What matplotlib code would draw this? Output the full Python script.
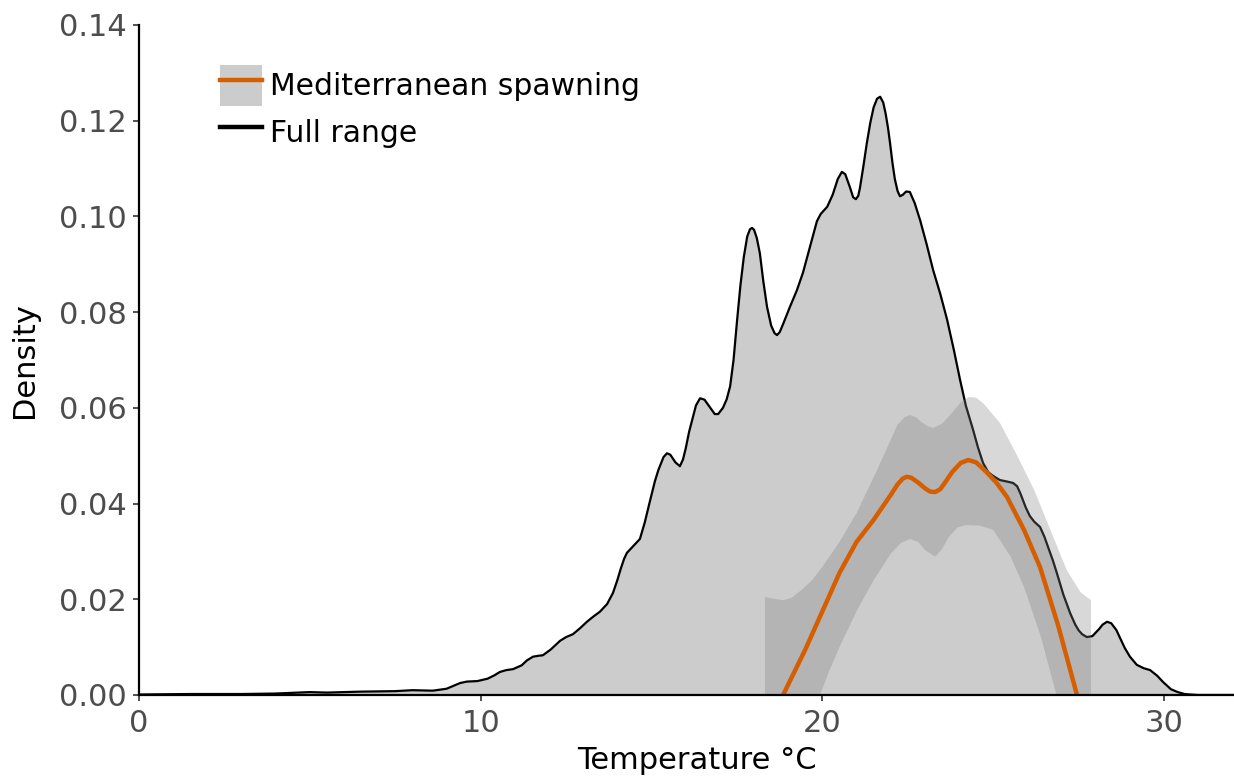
import numpy as np
import matplotlib
matplotlib.use('Agg')
from matplotlib import pyplot as plt
from matplotlib.patches import Patch
from matplotlib.lines import Line2D
from matplotlib.legend_handler import HandlerPatch, HandlerTuple

# full range density
full_x = [0.0, 1.5, 3.0, 4.0, 5.0, 5.5, 6.5, 7.5, 8.0, 8.6, 9.0, 9.2, 9.4, 9.6, 9.9,
          10.2, 10.4, 10.56, 10.75, 10.95, 11.2, 11.35, 11.53, 11.7, 11.82, 12.05,
          12.32, 12.5, 12.7, 12.9, 13.11, 13.3, 13.49, 13.7, 13.87, 14.0, 14.1,
          14.2, 14.28, 14.45, 14.66, 14.8, 14.96, 15.1, 15.2, 15.35, 15.45, 15.55,
          15.7, 15.83, 15.92, 16.0, 16.1, 16.21, 16.3, 16.42, 16.55, 16.7, 16.85,
          16.95, 17.09, 17.2, 17.3, 17.4, 17.5, 17.6, 17.7, 17.8, 17.88, 17.94,
          18.0, 18.08, 18.17, 18.27, 18.38, 18.5, 18.6, 18.67, 18.75, 18.85,
          19.05, 19.25, 19.43, 19.65, 19.84, 19.95, 20.14, 20.3, 20.45, 20.57,
          20.67, 20.8, 20.9, 20.98, 21.05, 21.1, 21.2, 21.3, 21.4, 21.5, 21.6,
          21.69, 21.78, 21.85, 21.92, 21.98, 22.05, 22.12, 22.2, 22.27, 22.35,
          22.45, 22.56, 22.7, 22.86, 23.05, 23.24, 23.45, 23.65, 23.85, 24.03,
          24.2, 24.41, 24.55, 24.7, 24.85, 24.95, 25.1, 25.2, 25.4, 25.58, 25.7,
          25.8, 25.95, 26.07, 26.2, 26.37, 26.5, 26.6, 26.75, 26.86, 27.05, 27.25,
          27.4, 27.5, 27.6, 27.74, 27.9, 28.1, 28.2, 28.33, 28.45, 28.6, 28.7,
          28.85, 29.0, 29.2, 29.4, 29.59, 29.8, 29.97, 30.2, 30.4, 30.6, 30.76,
          31.0, 31.2, 32.6]
full_y = [0.0001, 0.0002, 0.0002, 0.0003, 0.0006, 0.0005, 0.0007, 0.0008, 0.0010,
          0.0009, 0.0013, 0.0019, 0.0025, 0.0028, 0.0029, 0.0034, 0.0041, 0.0048,
          0.0052, 0.0054, 0.0062, 0.0072, 0.0080, 0.0082, 0.0083, 0.0095, 0.0113,
          0.0121, 0.0127, 0.0139, 0.0153, 0.0164, 0.0174, 0.0190, 0.0213, 0.0240,
          0.0264, 0.0285, 0.0297, 0.0310, 0.0326, 0.0360, 0.0407, 0.0447, 0.0470,
          0.0497, 0.0505, 0.0502, 0.0486, 0.0478, 0.0492, 0.0515, 0.0550, 0.0580,
          0.0605, 0.0620, 0.0617, 0.0602, 0.0587, 0.0587, 0.0600, 0.0618, 0.0645,
          0.0700, 0.0780, 0.0855, 0.0915, 0.0958, 0.0973, 0.0976, 0.0972, 0.0955,
          0.0923, 0.0865, 0.0811, 0.0772, 0.0756, 0.0752, 0.0758, 0.0775, 0.0811,
          0.0845, 0.0882, 0.0940, 0.0990, 0.1005, 0.1020, 0.1045, 0.1078, 0.1093,
          0.1088, 0.1062, 0.1040, 0.1036, 0.1043, 0.1060, 0.1105, 0.1153, 0.1195,
          0.1228, 0.1246, 0.1250, 0.1238, 0.1215, 0.1185, 0.1153, 0.1112, 0.1078,
          0.1053, 0.1042, 0.1045, 0.1052, 0.1051, 0.1028, 0.0992, 0.0942, 0.0888,
          0.0838, 0.0784, 0.0720, 0.0658, 0.0604, 0.0554, 0.0518, 0.0485, 0.0466,
          0.0460, 0.0453, 0.0449, 0.0446, 0.0443, 0.0436, 0.0420, 0.0392, 0.0374,
          0.0362, 0.0351, 0.0330, 0.0310, 0.0280, 0.0255, 0.0210, 0.0171, 0.0147,
          0.0135, 0.0127, 0.0121, 0.0123, 0.0138, 0.0147, 0.0153, 0.0150, 0.0136,
          0.0121, 0.0098, 0.0080, 0.0063, 0.0056, 0.0052, 0.0040, 0.0027, 0.0012,
          0.0006, 0.0002, 0.0001, 0.0, 0.0, 0.0]

# mediterranean spawning: fitted line and band
med_x = [18.85, 19.5, 20.0, 20.5, 21.0, 21.5, 22.0, 22.2, 22.35, 22.47, 22.6,
         22.8, 23.0, 23.15, 23.3, 23.45, 23.6, 23.8, 24.05, 24.27, 24.5, 24.8,
         25.1, 25.4, 25.9, 26.37, 26.9, 27.45]
med_y = [0.0, 0.0095, 0.0175, 0.0255, 0.0320, 0.0366, 0.0418, 0.0440, 0.0452,
         0.0456, 0.0454, 0.0444, 0.0432, 0.0425, 0.0424, 0.0430, 0.0445, 0.0466,
         0.0485, 0.0491, 0.0486, 0.0466, 0.0443, 0.0414, 0.0345, 0.0267, 0.0145,
         0.0]

up_x = [18.32, 18.5, 18.85, 19.1, 19.4, 19.7, 20.0, 20.5, 21.0, 21.6, 22.2,
        22.4, 22.56, 22.75, 22.9, 23.1, 23.25, 23.5, 23.8, 24.05, 24.3, 24.5,
        24.7, 25.0, 25.2, 25.7, 26.2, 26.7, 27.15, 27.55, 27.86]
up_y = [0.0205, 0.0202, 0.0198, 0.0203, 0.0220, 0.0240, 0.0268, 0.0320, 0.0380,
        0.0470, 0.0565, 0.0580, 0.0585, 0.0580, 0.0570, 0.0561, 0.0558, 0.0567,
        0.0590, 0.0612, 0.0623, 0.0621, 0.0610, 0.0585, 0.0568, 0.0500, 0.0428,
        0.0340, 0.0261, 0.0215, 0.0198]
low_x = [18.32, 19.93, 20.2, 20.5, 21.0, 21.5, 22.0, 22.3, 22.56, 22.8, 23.0,
         23.3, 23.5, 23.7, 23.95, 24.2, 24.6, 25.0, 25.5, 25.9, 26.4, 26.85,
         27.86]
low_y = [0.0, 0.0, 0.0050, 0.0100, 0.0175, 0.0240, 0.0295, 0.0318, 0.0326,
         0.0320, 0.0303, 0.0289, 0.0305, 0.0330, 0.0350, 0.0355, 0.0354, 0.0345,
         0.0290, 0.0226, 0.0120, 0.0, 0.0]

x_ticks = [0, 10, 20, 30]
y_ticks = [0.00, 0.02, 0.04, 0.06, 0.08, 0.10, 0.12, 0.14]

orange = '#d55e00'

fig = plt.figure(figsize=(12.34, 7.80), dpi=100)
# panel runs a little past the right edge of the picture
ax = fig.add_axes([0.1126, 0.109, 0.9036, 0.859])

ax.fill_between(full_x, full_y, 0, color='#cccccc', lw=0, zorder=1)
ax.plot(full_x, full_y, color='black', lw=1.6, zorder=2)

band_x = np.concatenate([up_x, low_x[::-1]])
band_y = np.concatenate([up_y, low_y[::-1]])
ax.fill(band_x, band_y, color='#7f7f7f', alpha=0.3, lw=0, zorder=3)
ax.plot(med_x, med_y, color=orange, lw=3.2, zorder=4, solid_capstyle='butt')

ax.set_xlim(0, 32.63)
ax.set_ylim(0, 0.14)
ax.set_xticks(x_ticks)
ax.set_yticks(y_ticks)
ax.set_yticklabels(['%.2f' % v for v in y_ticks])

for s in ['top', 'right']:
    ax.spines[s].set_visible(False)
for s in ['left', 'bottom']:
    ax.spines[s].set_linewidth(1.6)
    ax.spines[s].set_zorder(5)
ax.tick_params(axis='both', length=4, width=1.2, colors='#333333',
               labelsize=22, labelcolor='#4d4d4d')
ax.tick_params(axis='x', pad=6)
ax.tick_params(axis='y', pad=5)

ax.set_xlabel('Temperature °C', fontsize=22, labelpad=6)
ax.set_ylabel('Density', fontsize=22, labelpad=14)

handles = [(Patch(facecolor='#cccccc', edgecolor='none'),
            Line2D([], [], color=orange, lw=3.2)),
           Line2D([], [], color='black', lw=3.2)]
ax.legend(handles, ['Mediterranean spawning', 'Full range'], loc='upper left',
          bbox_to_anchor=(0.0725, 0.94), frameon=False, fontsize=21.5,
          handlelength=1.4, handleheight=1.72, handletextpad=0.27,
          labelspacing=0.22, borderpad=0, borderaxespad=0,
          handler_map={tuple: HandlerTuple(ndivide=1, ypad=0.0),
                       Patch: HandlerPatch(ypad=0.0)})

fig.savefig('out.png', dpi=100)
